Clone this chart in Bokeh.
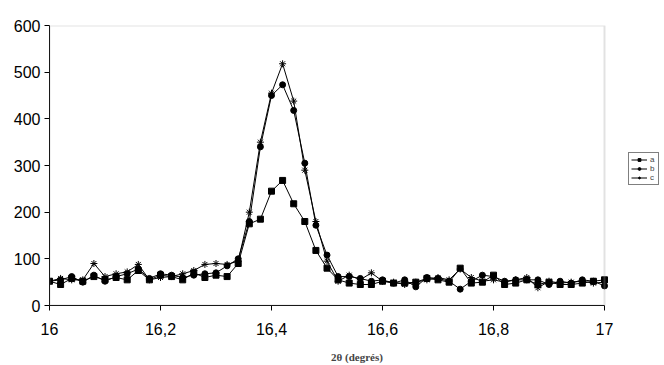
from bokeh.plotting import figure
from bokeh.models import Range1d, FixedTicker, Legend, LegendItem, ColumnDataSource, BoxAnnotation
from bokeh.embed import file_html
from bokeh.resources import INLINE

theta = [16.00 + 0.02 * i for i in range(51)]

a = [52, 45, 58, 52, 62, 55, 60, 55, 75, 55,
     65, 62, 55, 70, 60, 65, 62, 90, 175, 185,
     245, 268, 218, 180, 118, 80, 55, 48, 45, 45,
     52, 48, 48, 50, 58, 55, 50, 80, 48, 50,
     65, 45, 48, 55, 45, 50, 45, 45, 48, 52, 55]

b = [52, 55, 62, 50, 65, 52, 62, 68, 78, 58,
     68, 65, 60, 65, 68, 70, 85, 100, 180, 340,
     450, 473, 418, 305, 172, 108, 62, 62, 58, 52,
     55, 48, 55, 40, 60, 58, 52, 35, 52, 65,
     62, 52, 55, 55, 55, 45, 52, 48, 55, 52, 42]

c = [52, 58, 55, 55, 90, 62, 68, 72, 88, 55,
     60, 62, 68, 75, 88, 90, 88, 95, 200, 350,
     455, 518, 438, 290, 180, 95, 52, 65, 55, 70,
     52, 50, 45, 50, 55, 60, 55, 78, 60, 52,
     55, 50, 55, 60, 38, 52, 48, 50, 52, 48, 50]

x_ticks = [16, 16.2, 16.4, 16.6, 16.8, 17]
x_tick_labels = ["16", "16,2", "16,4", "16,6", "16,8", "17"]
y_ticks = [0, 100, 200, 300, 400, 500, 600]
series_names = ["a", "b", "c"]

x_min, x_max = 16, 17
y_min, y_max = 0, 600

# frame spans the whole width to the right; plot area is 16..17 (555 px), rest holds legend
plot_px = 555.0
frame_px = 664 - 49
x_end = x_min + (x_max - x_min) * frame_px / plot_px

p = figure(width=664, height=365, output_backend="svg", toolbar_location=None,
           x_range=Range1d(x_min, x_end), y_range=Range1d(y_min, y_max),
           min_border_left=49, min_border_top=25, min_border_bottom=59,
           min_border_right=0)
p.background_fill_color = "white"
p.border_fill_color = "white"
p.outline_line_color = None
p.xgrid.visible = False
p.ygrid.visible = False

p.add_layout(BoxAnnotation(left=x_min, right=x_max, bottom=y_min, top=y_max,
                           fill_alpha=0, line_color="#a0a0a0", line_width=2))

src = ColumnDataSource(dict(x=theta, a=a, b=b, c=c))
renderers = []
for name, marker, size in zip(series_names, ["square", "circle", "asterisk"], [6, 6, 7]):
    ln = p.line("x", name, source=src, line_color="black", line_width=1)
    sc = p.scatter("x", name, source=src, marker=marker, size=size,
                   fill_color="black", line_color="black", line_width=1)
    renderers.append([ln, sc])

legend = Legend(items=[LegendItem(label=n, renderers=r) for n, r in zip(series_names, renderers)],
                location=(579, 120))
legend.label_text_font = "Liberation Sans"
legend.label_text_font_size = "8px"
legend.glyph_width = 16
legend.glyph_height = 7
legend.label_height = 7
legend.label_width = 6
legend.spacing = 0
legend.padding = 2
legend.margin = 0
legend.label_standoff = 3
legend.border_line_color = "black"
legend.border_line_width = 1
legend.background_fill_alpha = 1
p.add_layout(legend)

for ax in (p.xaxis[0], p.yaxis[0]):
    ax.axis_line_color = "black"
    ax.major_tick_line_color = "black"
    ax.major_tick_out = 5
    ax.major_tick_in = 0
    ax.minor_tick_line_color = None
    ax.major_label_text_font = "Liberation Sans"
    ax.major_label_text_font_size = "16px"
    ax.major_label_text_color = "black"

p.xaxis.bounds = (x_min, x_max)
p.xaxis.ticker = FixedTicker(ticks=x_ticks)
p.xaxis.major_label_overrides = {t: l for t, l in zip(x_ticks, x_tick_labels)}
p.xaxis.major_label_standoff = 12
p.xaxis.axis_label = "2θ (degrés)"
p.xaxis.axis_label_text_font = "Liberation Serif"
p.xaxis.axis_label_text_font_style = "bold"
p.xaxis.axis_label_text_font_size = "11px"
p.xaxis.axis_label_standoff = 13

p.yaxis.ticker = FixedTicker(ticks=y_ticks)
p.yaxis.major_label_standoff = 4

open("out.html", "w").write(file_html(p, INLINE))
